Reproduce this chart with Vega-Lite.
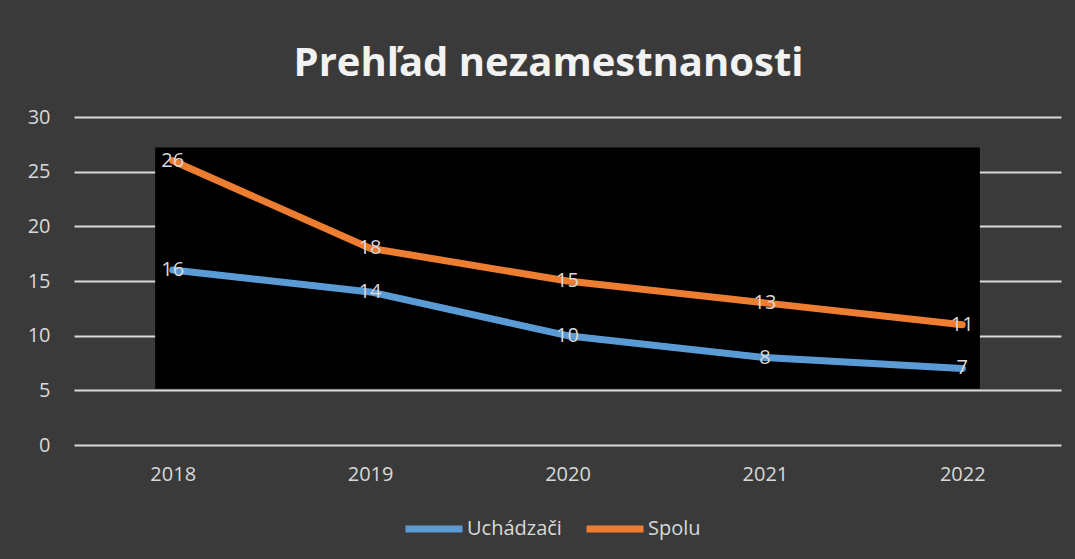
{
  "$schema": "https://vega.github.io/schema/vega-lite/v6.json",
  "width": 987,
  "height": 328,
  "autosize": {"type": "none"},
  "padding": {"left": 74, "top": 117, "right": 14, "bottom": 114},
  "background": "#3a3a3a",
  "title": {
    "text": "Prehľad nezamestnanosti",
    "font": "Open Sans",
    "fontSize": 40,
    "fontWeight": "bold",
    "color": "#f2f2f2",
    "anchor": "middle",
    "frame": "group",
    "dx": -19,
    "offset": 23
  },
  "datasets": {
    "series": [
      {"rok": 2018, "seria": "Uchádzači", "pocet": 16},
      {"rok": 2019, "seria": "Uchádzači", "pocet": 14},
      {"rok": 2020, "seria": "Uchádzači", "pocet": 10},
      {"rok": 2021, "seria": "Uchádzači", "pocet": 8},
      {"rok": 2022, "seria": "Uchádzači", "pocet": 7},
      {"rok": 2018, "seria": "Spolu", "pocet": 26},
      {"rok": 2019, "seria": "Spolu", "pocet": 18},
      {"rok": 2020, "seria": "Spolu", "pocet": 15},
      {"rok": 2021, "seria": "Spolu", "pocet": 13},
      {"rok": 2022, "seria": "Spolu", "pocet": 11}
    ],
    "plocha": [
      {"od": 2017.911, "do": 2022.089, "dole": 5.15, "hore": 27.2}
    ]
  },
  "encoding": {
    "x": {
      "type": "quantitative",
      "scale": {"domain": [2017.5, 2022.5], "zero": false, "nice": false},
      "axis": {
        "title": null,
        "values": [2018, 2019, 2020, 2021, 2022],
        "format": "d",
        "grid": false,
        "ticks": false,
        "domain": false,
        "labelFont": "Open Sans",
        "labelFontSize": 20,
        "labelColor": "#d9d9d9",
        "labelPadding": 19
      }
    },
    "y": {
      "type": "quantitative",
      "scale": {"domain": [0, 30], "nice": false},
      "axis": {
        "title": null,
        "values": [0, 5, 10, 15, 20, 25, 30],
        "grid": true,
        "gridColor": "#d9d9d9",
        "gridWidth": 2,
        "gridOpacity": 1,
        "ticks": false,
        "domain": false,
        "labelFont": "Open Sans",
        "labelFontSize": 20,
        "labelColor": "#d9d9d9",
        "labelPadding": 24
      }
    }
  },
  "layer": [
    {
      "data": {"name": "plocha"},
      "mark": {"type": "rect", "color": "#000000"},
      "encoding": {
        "x": {"field": "od", "type": "quantitative"},
        "x2": {"field": "do"},
        "y": {"field": "dole", "type": "quantitative"},
        "y2": {"field": "hore"}
      }
    },
    {
      "data": {"name": "series"},
      "mark": {"type": "line", "strokeWidth": 7, "strokeCap": "round", "strokeJoin": "round", "interpolate": "linear"},
      "encoding": {
        "x": {"field": "rok", "type": "quantitative"},
        "y": {"field": "pocet", "type": "quantitative"},
        "color": {
          "field": "seria",
          "type": "nominal",
          "sort": ["Uchádzači", "Spolu"],
          "scale": {"domain": ["Uchádzači", "Spolu"], "range": ["#5b9bd5", "#ed7d31"]},
          "legend": {
            "title": null,
            "orient": "none",
            "direction": "horizontal",
            "legendX": 328,
            "legendY": 380,
            "symbolType": "stroke",
            "symbolStrokeWidth": 7,
            "symbolSize": 3249,
            "labelFont": "Open Sans",
            "labelFontSize": 20,
            "labelColor": "#d9d9d9",
            "labelOffset": 1,
            "columnPadding": 10
          }
        }
      }
    },
    {
      "data": {"name": "series"},
      "mark": {"type": "text", "font": "Open Sans", "fontSize": 20, "color": "#d9d9d9", "align": "center", "baseline": "middle"},
      "encoding": {
        "x": {"field": "rok", "type": "quantitative"},
        "y": {"field": "pocet", "type": "quantitative"},
        "text": {"field": "pocet", "type": "quantitative"}
      }
    }
  ],
  "config": {
    "view": {"stroke": null}
  }
}
